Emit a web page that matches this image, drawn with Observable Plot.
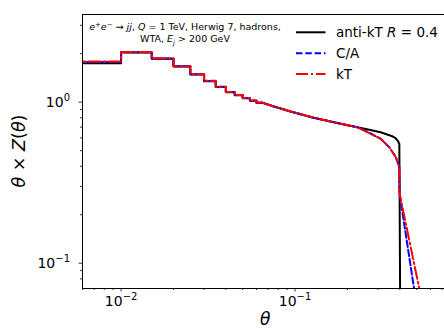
<!DOCTYPE html>
<html><head><meta charset="utf-8">
<script src="https://cdn.jsdelivr.net/npm/d3@7"></script>
<script src="https://cdn.jsdelivr.net/npm/@observablehq/plot@0.6"></script>
<style>
html,body{margin:0;padding:0;background:#fff;overflow:hidden;}
#chart{width:444px;height:329px;overflow:hidden;position:relative;}
</style></head><body><div id="chart"></div>
<script>
// ---- data ----
// histogram bin edges (theta) for the small-angle region
const binEdges = [0.005, 0.01, 0.015, 0.02, 0.025, 0.03, 0.035, 0.04, 0.045, 0.05, 0.055, 0.06, 0.065];
const histAntiKt = [1.746, 2.03, 1.86, 1.666, 1.486, 1.35, 1.24, 1.154, 1.105, 1.059, 1.02, 0.991];
const histCA     = [1.775, 2.04, 1.865, 1.67, 1.49, 1.355, 1.245, 1.157, 1.107, 1.061, 1.022, 0.993];
const histKt     = [1.79, 2.045, 1.87, 1.672, 1.492, 1.357, 1.246, 1.158, 1.108, 1.062, 1.023, 0.994];

// larger-angle part of each curve
const tailThetaAntiKt = [0.065, 0.0755, 0.0942, 0.128, 0.167, 0.2278, 0.267, 0.31, 0.3586, 0.378, 0.39, 0.3975, 0.4015];
const tailAntiKt      = [0.99, 0.94, 0.875, 0.80, 0.75, 0.699, 0.674, 0.651, 0.617, 0.597, 0.575, 0.55, 0.0697];
const tailThetaCA     = [0.065, 0.0755, 0.0942, 0.128, 0.167, 0.2278, 0.26, 0.31, 0.348, 0.3796, 0.3975, 0.3987, 0.483];
const tailCA          = [0.992, 0.94, 0.875, 0.80, 0.75, 0.698, 0.655, 0.593, 0.525, 0.455, 0.395, 0.271, 0.0697];
const tailThetaKt     = [0.065, 0.0755, 0.0942, 0.128, 0.167, 0.2278, 0.26, 0.31, 0.348, 0.3796, 0.3975, 0.3987, 0.5174];
const tailKt          = [0.993, 0.94, 0.875, 0.80, 0.75, 0.698, 0.652, 0.593, 0.525, 0.455, 0.395, 0.271, 0.0697];

const seriesNames = ["anti-kT", "C/A", "kT"];
const xMajorTicks = [0.01, 0.1];
const xMinorTicks = [0.006, 0.007, 0.008, 0.009, 0.02, 0.03, 0.04, 0.05, 0.06, 0.07, 0.08, 0.09, 0.2, 0.3, 0.4, 0.5, 0.6, 0.7];
const yMajorTicks = [0.1, 1];
const yMinorTicks = [0.08, 0.09, 0.2, 0.3, 0.4, 0.5, 0.6, 0.7, 0.8, 0.9, 2, 3];

// ---- build tables ----
function histTable(vals) {
  const t = vals.map((v, i) => ({theta: binEdges[i], v}));
  t.push({theta: binEdges[vals.length], v: vals[vals.length - 1]});
  return t;
}
function tailTable(th, vals) { return th.map((t, i) => ({theta: t, v: vals[i]})); }

const series = [
  {name: seriesNames[0], hist: histTable(histAntiKt), tail: tailTable(tailThetaAntiKt, tailAntiKt), stroke: "#000000", dash: null},
  {name: seriesNames[1], hist: histTable(histCA), tail: tailTable(tailThetaCA, tailCA), stroke: "#0000ff", dash: "6.5,2.8"},
  {name: seriesNames[2], hist: histTable(histKt), tail: tailTable(tailThetaKt, tailKt), stroke: "#ff0000", dash: "12,3,2,3"}
];

const expOf = d => String(Math.round(Math.log10(d))).replace("-", "\u2212");
const fmtPow = d => "10^" + expOf(d);

const marks = [];
for (const s of series) {
  const o = {x: "theta", y: "v", stroke: s.stroke, strokeWidth: 2, clip: true};
  if (s.dash) o.strokeDasharray = s.dash;
  marks.push(Plot.line(s.hist, {...o, curve: "step-after"}));
  marks.push(Plot.line(s.tail, {...o, curve: "linear"}));
}
marks.push(Plot.axisX({ticks: xMinorTicks, tickSize: 2, tickFormat: () => "", label: null, strokeWidth: 0.8}));
marks.push(Plot.axisX({ticks: xMajorTicks, tickSize: 3.5, tickPadding: 4, tickFormat: fmtPow, label: null, strokeWidth: 0.8}));
marks.push(Plot.axisY({ticks: yMinorTicks, tickSize: 2, tickFormat: () => "", label: null, strokeWidth: 0.8}));
marks.push(Plot.axisY({ticks: yMajorTicks, tickSize: 3.5, tickPadding: 9, tickFormat: fmtPow, label: null, strokeWidth: 0.8}));
marks.push(Plot.frame({stroke: "#000", strokeWidth: 1}));

const W = 450, H = 329;
const plot = Plot.plot({
  width: W, height: H,
  marginLeft: 82, marginRight: 1.4, marginTop: 14, marginBottom: 41,
  style: {fontFamily: "DejaVu Sans", color: "#000", background: "#fff", maxWidth: "none", overflow: "visible"},
  x: {type: "log", domain: [0.006, 0.768]},
  y: {type: "log", domain: [0.0697, 3.5]},
  marks
});
document.getElementById("chart").appendChild(plot);

const svg = d3.select(plot);
// rebuild power-of-ten tick labels as "10" + raised exponent
svg.selectAll("text").each(function() {
  const el = d3.select(this);
  const t = el.text();
  if (!t.startsWith("10^")) return;
  const e = t.slice(3);
  el.text(null).attr("font-size", 14);
  el.append("tspan").text("10");
  el.append("tspan").attr("font-size", 10).attr("dy", -6).text(e);
});

// ---- text overlays (labels, annotation, legend) ----
function rich(sel, parts) {
  let shift = 0;
  for (const [t, o = {}] of parts) {
    const ts = sel.append("tspan").text(t);
    if (o.italic) ts.attr("font-style", "italic");
    let target = 0;
    if (o.sup) target = -o.sup;
    if (o.sub) target = o.sub;
    if (target !== shift) { ts.attr("dy", target - shift); shift = target; }
    if (o.size) ts.attr("font-size", o.size);
  }
}
// annotation
const ann = svg.append("g").attr("font-family", "DejaVu Sans").attr("font-size", 9.5).attr("text-anchor", "middle").attr("fill", "#000");
rich(ann.append("text").attr("x", 185).attr("y", 30), [
  ["e", {italic: true}], ["+", {sup: 3.5, size: 7}], ["e", {italic: true}], ["\u2212", {sup: 3.5, size: 7}],
  [" \u2192 "], ["jj", {italic: true}], [", "], ["Q", {italic: true}], [" = 1 TeV, Herwig 7, hadrons,"]
]);
rich(ann.append("text").attr("x", 185).attr("y", 42), [
  ["WTA, "], ["E", {italic: true}], ["j", {italic: true, sub: 2.5, size: 7}], [" > 200 GeV"]
]);
// legend
const leg = svg.append("g").attr("font-family", "DejaVu Sans").attr("font-size", 13.5).attr("fill", "#000").attr("text-anchor", "start");
const legY = [32.3, 53.3, 74];
const legLabels = [[["anti-kT "], ["R", {italic: true}], [" = 0.4"]], [["C/A"]], [["kT"]]];
series.forEach((s, i) => {
  const ln = leg.append("line").attr("x1", 296).attr("x2", 325.5).attr("y1", legY[i]).attr("y2", legY[i])
    .attr("stroke", s.stroke).attr("stroke-width", 2);
  if (s.dash) ln.attr("stroke-dasharray", s.dash);
  rich(leg.append("text").attr("x", 336).attr("y", legY[i] + 5), legLabels[i]);
});
// axis labels
const yl = svg.append("text").attr("transform", "translate(25,151) rotate(-90)").attr("text-anchor", "middle")
  .attr("font-family", "DejaVu Sans").attr("font-size", 17.5).attr("fill", "#000");
rich(yl, [["\u03B8", {italic: true}], [" \u00D7 "], ["Z", {italic: true}], ["("], ["\u03B8", {italic: true}], [")"]]);
svg.append("text").attr("x", 265.3).attr("y", 325).attr("text-anchor", "middle")
  .attr("font-family", "DejaVu Sans").attr("font-size", 17).attr("font-style", "italic").attr("fill", "#000").text("\u03B8");
</script>
</body></html>
